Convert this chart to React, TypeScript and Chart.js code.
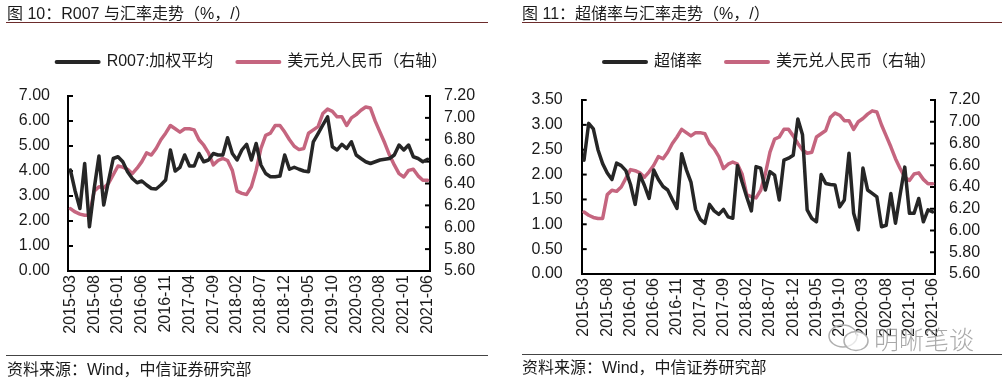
import React, { useEffect, useRef } from 'react';
import { Chart, registerables } from 'chart.js';

Chart.register(...registerables);

const months = [
  '2015-03', '2015-04', '2015-05', '2015-06', '2015-07', '2015-08', '2015-09', '2015-10', '2015-11', '2015-12',
  '2016-01', '2016-02', '2016-03', '2016-04', '2016-05', '2016-06', '2016-07', '2016-08', '2016-09', '2016-10', '2016-11', '2016-12',
  '2017-01', '2017-02', '2017-03', '2017-04', '2017-05', '2017-06', '2017-07', '2017-08', '2017-09', '2017-10', '2017-11', '2017-12',
  '2018-01', '2018-02', '2018-03', '2018-04', '2018-05', '2018-06', '2018-07', '2018-08', '2018-09', '2018-10', '2018-11', '2018-12',
  '2019-01', '2019-02', '2019-03', '2019-04', '2019-05', '2019-06', '2019-07', '2019-08', '2019-09', '2019-10', '2019-11', '2019-12',
  '2020-01', '2020-02', '2020-03', '2020-04', '2020-05', '2020-06', '2020-07', '2020-08', '2020-09', '2020-10', '2020-11', '2020-12',
  '2021-01', '2021-02', '2021-03', '2021-04', '2021-05', '2021-06',
];

// 美元兑人民币 (right axis, both charts)
const usdCny = [
  6.17, 6.14, 6.12, 6.11, 6.11, 6.33, 6.37, 6.36, 6.40, 6.48,
  6.56, 6.55, 6.53, 6.49, 6.54, 6.60, 6.68, 6.66, 6.72, 6.80, 6.86, 6.93,
  6.90, 6.87, 6.90, 6.90, 6.89, 6.80, 6.75, 6.68, 6.57, 6.61, 6.63, 6.61,
  6.52, 6.33, 6.31, 6.30, 6.37, 6.52, 6.72, 6.84, 6.86, 6.93, 6.93, 6.87,
  6.80, 6.74, 6.71, 6.72, 6.86, 6.89, 6.92, 7.04, 7.08, 7.06, 7.01, 7.01,
  6.93, 7.00, 7.03, 7.07, 7.10, 7.09, 6.97, 6.87, 6.77, 6.66, 6.57, 6.49,
  6.46, 6.52, 6.53, 6.47, 6.43, 6.43,
];

// R007:加权平均 (%)
const r007 = [
  4.04, 3.20, 2.50, 4.30, 1.77, 3.30, 4.60, 2.64, 3.60, 4.50,
  4.57, 4.37, 3.97, 3.70, 3.53, 3.60, 3.44, 3.30, 3.28, 3.44, 3.64, 4.84,
  4.00, 4.15, 4.64, 4.20, 4.20, 4.70, 4.37, 4.44, 4.70, 4.64, 4.64, 5.33,
  4.70, 4.44, 4.84, 5.07, 4.44, 5.10, 4.24, 3.90, 3.77, 3.77, 3.80, 4.64,
  4.07, 4.15, 4.07, 4.00, 3.97, 5.17, 5.50, 5.84, 6.17, 4.97, 4.84, 5.07,
  4.90, 5.17, 4.64, 4.50, 4.37, 4.30, 4.37, 4.44, 4.47, 4.50, 4.64, 5.04,
  4.84, 5.04, 4.57, 4.50, 4.37, 4.47,
];

// 超储率 (%)
const excessReserve = [
  2.29, 3.03, 2.92, 2.50, 2.22, 2.03, 1.90, 2.23, 2.18, 2.08,
  1.80, 1.40, 2.00, 1.78, 1.52, 2.09, 1.90, 1.76, 1.69, 1.50, 1.32, 2.42,
  2.10, 1.85, 1.30, 1.10, 1.02, 1.40, 1.27, 1.20, 1.30, 1.15, 1.12, 2.18,
  1.85, 1.55, 1.27, 2.16, 2.13, 1.69, 2.06, 1.99, 1.49, 2.29, 2.33, 2.39,
  3.12, 2.80, 1.29, 1.12, 1.05, 2.00, 1.82, 1.80, 1.79, 1.35, 1.49, 2.43,
  1.22, 0.89, 2.13, 1.69, 1.62, 1.55, 0.95, 0.98, 1.62, 1.02, 1.60, 2.15,
  1.22, 1.22, 1.52, 1.05, 1.29, 1.25,
];

// axis tick values
const r007Ticks = [0, 1, 2, 3, 4, 5, 6, 7];
const reserveTicks = [0, 0.5, 1, 1.5, 2, 2.5, 3, 3.5];
const fxTicks = [5.6, 5.8, 6.0, 6.2, 6.4, 6.6, 6.8, 7.0, 7.2];

const FONT = '"Liberation Sans", Arial, "Noto Sans CJK SC", sans-serif';
const TEXT = '#1a1a1a';
const DARK = '#262626';
const PINK = '#c5657f';

const legendSpacer = (h: number) => ({
  id: 'legendSpacer',
  beforeInit(chart: any) {
    const legend = chart.legend;
    if (!legend) return;
    const orig = legend.fit;
    legend.fit = function () {
      orig.call(this);
      this.height = h;
    };
  },
});

const innerTicks = {
  id: 'innerTicks',
  beforeDatasetsDraw(chart: any) {
    const ctx = chart.ctx;
    const pairs: [any, number][] = [[chart.scales.y, 1], [chart.scales.y1, -1]];
    ctx.save();
    ctx.strokeStyle = '#000';
    ctx.lineWidth = 2;
    pairs.forEach(([s, dir]) => {
      const x0 = dir === 1 ? s.right : s.left;
      s.ticks.forEach((_t: any, i: number) => {
        const py = s.getPixelForTick(i);
        ctx.beginPath();
        ctx.moveTo(x0, py);
        ctx.lineTo(x0 + dir * 5, py);
        ctx.stroke();
      });
    });
    ctx.restore();
  },
};

type Cfg = {
  seriesLabel: string;
  series: number[];
  yTicks: number[];
  padTop: number; padLeft: number; padRight: number;
  legendHeight: number; xHeight: number;
  yWidth: number; y1Width: number;
  yPad: number; y1Pad: number;
};

function buildConfig(p: Cfg): any {
  const tickFont = { size: 16, family: FONT };
  return {
    type: 'line',
    data: {
      labels: months,
      datasets: [
        {
          label: p.seriesLabel, data: p.series, borderColor: DARK, backgroundColor: DARK,
          borderWidth: 3.5, pointRadius: 0, tension: 0, borderJoinStyle: 'round', borderCapStyle: 'round', yAxisID: 'y',
        },
        {
          label: '美元兑人民币（右轴）', data: usdCny, borderColor: PINK, backgroundColor: PINK,
          borderWidth: 3.5, pointRadius: 0, tension: 0, borderJoinStyle: 'round', borderCapStyle: 'round', yAxisID: 'y1',
        },
      ],
    },
    options: {
      animation: false,
      responsive: false,
      maintainAspectRatio: false,
      devicePixelRatio: 1,
      layout: { padding: { top: p.padTop, left: p.padLeft, right: p.padRight, bottom: 0 } },
      plugins: {
        tooltip: { enabled: false },
        legend: {
          position: 'top',
          align: 'center',
          labels: {
            usePointStyle: true,
            pointStyle: 'line',
            pointStyleWidth: 42,
            padding: 24,
            color: TEXT,
            font: { size: 16, family: FONT },
            generateLabels: (chart: any) =>
              Chart.defaults.plugins.legend.labels.generateLabels(chart).map((l: any) => ({
                ...l, lineWidth: 4, lineCap: 'round',
              })),
          },
        },
      },
      scales: {
        x: {
          type: 'category',
          offset: true,
          grid: { display: false, drawTicks: false },
          border: { display: true, color: '#000', width: 2 },
          ticks: {
            autoSkip: false, maxRotation: 90, minRotation: 90, padding: 4,
            color: TEXT, font: tickFont,
            callback: (_v: any, i: number) => (i % 5 === 0 ? months[i] : ''),
          },
          afterFit: (s: any) => { s.height = p.xHeight; },
        },
        y: {
          position: 'left', min: p.yTicks[0], max: p.yTicks[p.yTicks.length - 1],
          grid: { display: false, drawTicks: false },
          border: { display: true, color: '#000', width: 2 },
          ticks: {
            autoSkip: false, padding: p.yPad, color: TEXT, font: tickFont,
            callback: (v: any) => Number(v).toFixed(2),
          },
          afterBuildTicks: (s: any) => { s.ticks = p.yTicks.map((v) => ({ value: v })); },
          afterFit: (s: any) => { s.width = p.yWidth; },
        },
        y1: {
          position: 'right', min: fxTicks[0], max: fxTicks[fxTicks.length - 1],
          grid: { display: false, drawTicks: false },
          border: { display: true, color: '#000', width: 2 },
          ticks: {
            autoSkip: false, padding: p.y1Pad, color: TEXT, font: tickFont,
            callback: (v: any) => Number(v).toFixed(2),
          },
          afterBuildTicks: (s: any) => { s.ticks = fxTicks.map((v) => ({ value: v })); },
          afterFit: (s: any) => { s.width = p.y1Width; },
        },
      },
    },
    plugins: [legendSpacer(p.legendHeight), innerTicks],
  };
}

function ChartCanvas({ cfg, width, height }: { cfg: Cfg; width: number; height: number }) {
  const ref = useRef<HTMLCanvasElement | null>(null);
  useEffect(() => {
    if (!ref.current) return;
    const chart = new Chart(ref.current, buildConfig(cfg));
    return () => chart.destroy();
  }, []);
  return <canvas ref={ref} width={width} height={height} style={{ display: 'block', width, height }} />;
}

const leftCfg: Cfg = {
  seriesLabel: 'R007:加权平均', series: r007, yTicks: r007Ticks,
  padTop: 30, padLeft: 4, padRight: 0,
  legendHeight: 66, xHeight: 110,
  yWidth: 64, y1Width: 70,
  yPad: 18, y1Pad: 14,
};

const rightCfg: Cfg = {
  seriesLabel: '超储率', series: excessReserve, yTicks: reserveTicks,
  padTop: 30, padLeft: 0, padRight: 0,
  legendHeight: 70, xHeight: 107,
  yWidth: 81.7, y1Width: 105,
  yPad: 19, y1Pad: 14,
};

const textStyle: React.CSSProperties = {
  position: 'absolute', fontFamily: FONT, fontSize: 16, lineHeight: '20px', color: TEXT, whiteSpace: 'nowrap',
};

export default function App() {
  return (
    <div style={{ position: 'absolute', left: 0, top: 0, width: 1006, height: 381, background: '#fff', overflow: 'hidden' }}>
      <div style={{ position: 'absolute', left: 0, top: 0 }}>
        <ChartCanvas cfg={leftCfg} width={500} height={381} />
      </div>
      <div style={{ position: 'absolute', left: 500, top: 0 }}>
        <ChartCanvas cfg={rightCfg} width={540} height={381} />
      </div>

      <div style={{ ...textStyle, left: 7, top: 4 }}>图 10：R007 与汇率走势（%，/）</div>
      <div style={{ position: 'absolute', left: 6, top: 22, width: 482, height: 1, background: '#6b2b2b' }} />
      <div style={{ position: 'absolute', left: 6, top: 355, width: 482, height: 1, background: '#444' }} />
      <div style={{ ...textStyle, left: 7, top: 360 }}>资料来源：Wind，中信证券研究部</div>

      <div style={{ ...textStyle, left: 522, top: 4 }}>图 11：超储率与汇率走势（%，/）</div>
      <div style={{ position: 'absolute', left: 522, top: 22, width: 480, height: 1, background: '#6b2b2b' }} />
      <div style={{ position: 'absolute', left: 522, top: 354, width: 480, height: 1, background: '#444' }} />
      <div style={{ ...textStyle, left: 522, top: 358 }}>资料来源：Wind，中信证券研究部</div>

      <svg style={{ position: 'absolute', left: 826, top: 322 }} width={46} height={32}>
        <ellipse cx={17} cy={14} rx={14} ry={11} fill="none" stroke="#b0b0b0" strokeWidth={1.5} />
        <ellipse cx={30} cy={19} rx={12} ry={9.5} fill="rgba(255,255,255,0.7)" stroke="#b0b0b0" strokeWidth={1.5} />
      </svg>
      <div style={{ ...textStyle, left: 874, top: 324, fontSize: 25, lineHeight: '28px', color: 'rgba(140,140,140,0.75)', fontFamily: '"Noto Sans CJK SC", sans-serif', fontWeight: 300 }}>明晰笔谈</div>
    </div>
  );
}
